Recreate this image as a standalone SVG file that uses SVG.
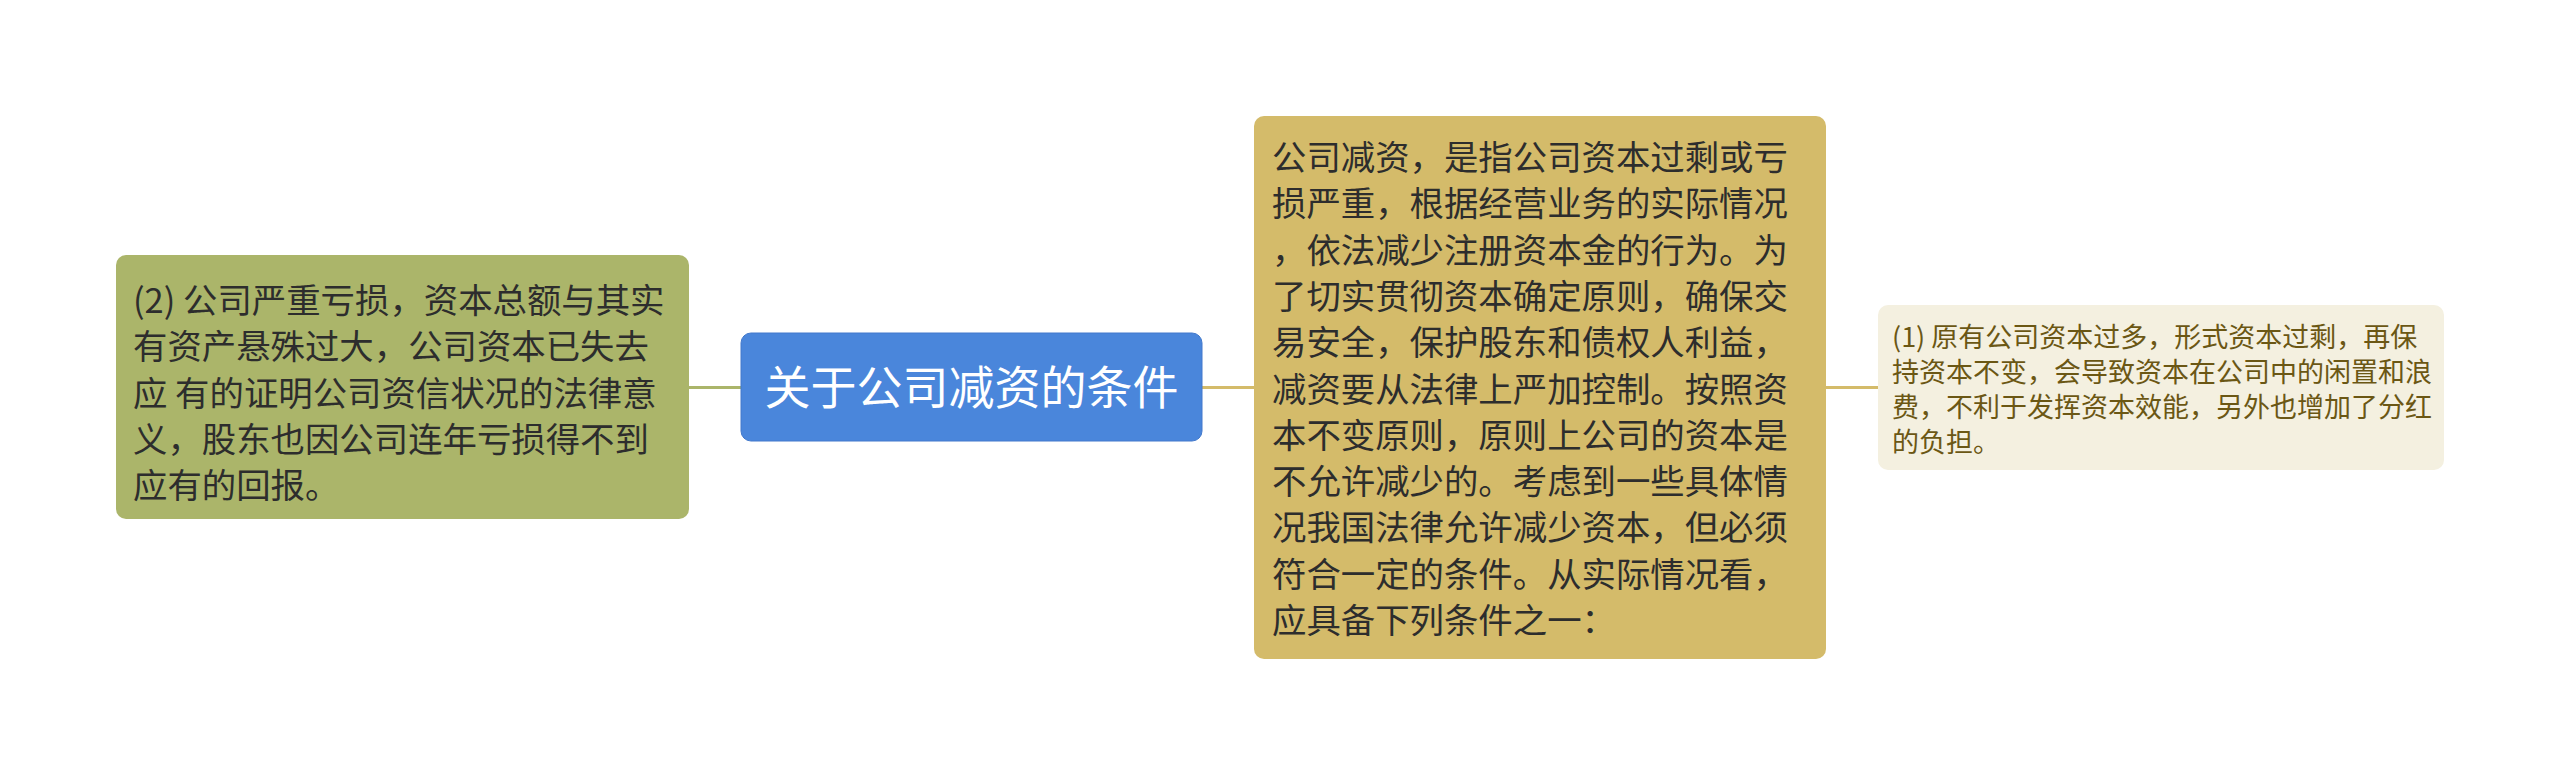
<svg xmlns="http://www.w3.org/2000/svg" width="2560" height="775" viewBox="0 0 2560 775">
<style>
text { font-family: "Noto Sans CJK SC", "Noto Sans", sans-serif; }
.dark { fill: #2d2d2d; font-size: 34.4px; }
.main { fill: #ffffff; font-size: 46px; }
.leaf { fill: #6b5714; font-size: 27px; }
.conn { fill: none; stroke-width: 3; }
</style>
<rect width="2560" height="775" fill="#ffffff"/>
<g id="connectors">
  <line class="conn" x1="689" y1="387.5" x2="741" y2="387.5" stroke="#abb56a"/>
  <line class="conn" x1="1202" y1="387.5" x2="1254" y2="387.5" stroke="#d4bb6a"/>
  <line class="conn" x1="1826" y1="387.5" x2="1878" y2="387.5" stroke="#d4bb6a"/>
</g>
<g id="node-left">
  <rect x="116" y="255" width="573" height="264" rx="10" ry="10" fill="#abb56a"/>
  <text class="dark" x="133">
    <tspan x="133" y="313">(2) 公司严重亏损，资本总额与其实</tspan>
    <tspan x="133" y="359.3">有资产悬殊过大，公司资本已失去</tspan>
    <tspan x="133" y="405.6">应 有的证明公司资信状况的法律意</tspan>
    <tspan x="133" y="451.9">义，股东也因公司连年亏损得不到</tspan>
    <tspan x="133" y="498.2">应有的回报。</tspan>
  </text>
</g>
<g id="node-center">
  <rect x="741" y="333" width="461" height="108" rx="10" ry="10" fill="#4a86db" stroke="#4279cc" stroke-width="1"/>
  <text class="main" x="971.5" y="404" text-anchor="middle">关于公司减资的条件</text>
</g>
<g id="node-gold">
  <rect x="1254" y="116" width="572" height="543" rx="10" ry="10" fill="#d4bb6a"/>
  <text class="dark">
    <tspan x="1272" y="170">公司减资，是指公司资本过剩或亏</tspan>
    <tspan x="1272" y="216.3">损严重，根据经营业务的实际情况</tspan>
    <tspan x="1272" y="262.6">，依法减少注册资本金的行为。为</tspan>
    <tspan x="1272" y="308.9">了切实贯彻资本确定原则，确保交</tspan>
    <tspan x="1272" y="355.2">易安全，保护股东和债权人利益，</tspan>
    <tspan x="1272" y="401.5">减资要从法律上严加控制。按照资</tspan>
    <tspan x="1272" y="447.8">本不变原则，原则上公司的资本是</tspan>
    <tspan x="1272" y="494.1">不允许减少的。考虑到一些具体情</tspan>
    <tspan x="1272" y="540.4">况我国法律允许减少资本，但必须</tspan>
    <tspan x="1272" y="586.7">符合一定的条件。从实际情况看，</tspan>
    <tspan x="1272" y="633">应具备下列条件之一：</tspan>
  </text>
</g>
<g id="node-right">
  <rect x="1878" y="305" width="566" height="165" rx="10" ry="10" fill="#f4f0e0"/>
  <text class="leaf">
    <tspan x="1892" y="347">(1) 原有公司资本过多，形式资本过剩，再保</tspan>
    <tspan x="1892" y="382">持资本不变，会导致资本在公司中的闲置和浪</tspan>
    <tspan x="1892" y="417">费，不利于发挥资本效能，另外也增加了分红</tspan>
    <tspan x="1892" y="452">的负担。</tspan>
  </text>
</g>
</svg>
